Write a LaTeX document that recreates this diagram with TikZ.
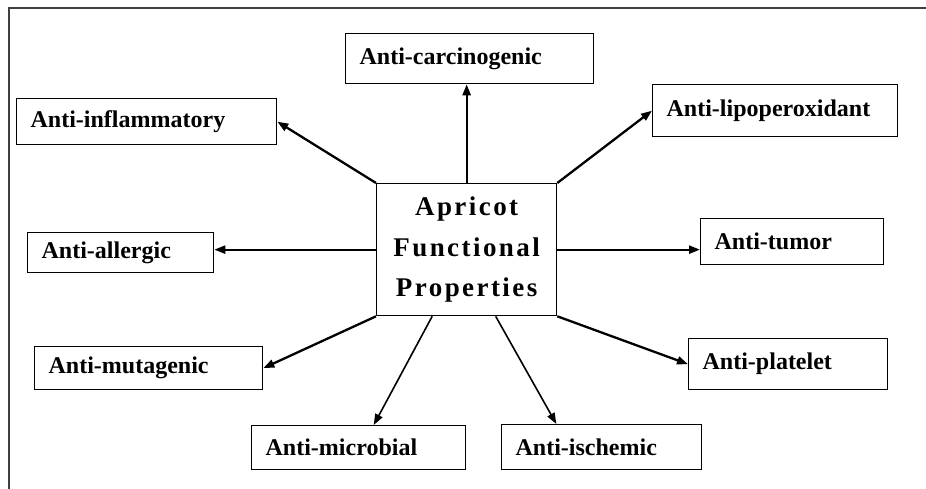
\documentclass[tikz,border=0pt]{standalone}
\usepackage{fontspec}
\setmainfont{Liberation Serif}
\newfontfamily\ctrfont[LetterSpace=9]{Liberation Serif}
\usetikzlibrary{arrows.meta,calc}
\begin{document}
\begin{tikzpicture}[x=1pt,y=-1pt,
  lbl/.style={draw, line width=1.3pt, anchor=north west, inner xsep=14pt, inner ysep=0pt,
    align=left, font=\bfseries\fontsize{24}{28}\selectfont},
  arr/.style={-{Triangle[length=11pt,width=8pt]}, line width=2.3pt},
  thinarr/.style={-{Triangle[length=11pt,width=8pt]}, line width=1.6pt},
  frame/.style={line width=1.4pt, black!75}]
\useasboundingbox (0,0) rectangle (926,489);
\coordinate (fr) at (926,8);
\coordinate (fc) at (9,8);
\coordinate (fb) at (9,489);
\draw[frame] (fr) -- (fc) -- (fb);

\node[draw, line width=1.3pt, anchor=north west, minimum width=180pt, minimum height=132pt,
  inner sep=0pt, align=center, font=\ctrfont\bfseries\fontsize{27}{40.5}\selectfont]
  (c) at (376,183) {Apricot\\Functional\\Properties};

\node[lbl, minimum width=248pt, minimum height=50pt, text width=220pt] (carc) at (345,33) {Anti-carcinogenic};
\node[lbl, minimum width=260pt, minimum height=46pt, text width=232pt] (infl) at (16,98) {Anti-inflammatory};
\node[lbl, minimum width=245pt, minimum height=52pt, text width=217pt] (lipo) at (652,84) {Anti-lipoperoxidant};
\node[lbl, minimum width=183pt, minimum height=46pt, text width=155pt] (tumor) at (700,218) {Anti-tumor};
\node[lbl, minimum width=186pt, minimum height=40pt, text width=158pt] (allerg) at (27,232) {Anti-allergic};
\node[lbl, minimum width=228pt, minimum height=43pt, text width=200pt] (mut) at (34,346) {Anti-mutagenic};
\node[lbl, minimum width=214pt, minimum height=44pt, text width=186pt] (micro) at (251,425) {Anti-microbial};
\node[lbl, minimum width=200pt, minimum height=45pt, text width=172pt] (isch) at (501,424) {Anti-ischemic};
\node[lbl, minimum width=199pt, minimum height=51pt, text width=171pt] (plat) at (688,338) {Anti-platelet};

\draw[arr] (c.north west) -- (infl.east);
\draw[arr] (c.north) -- (c.north |- carc.south);
\draw[arr] (c.north east) -- (lipo.west);
\draw[arr] (c.east) -- (c.east -| tumor.west);
\draw[arr] (c.west) -- (c.west -| allerg.east);
\draw[arr] (c.south west) -- (mut.east);
\draw[thinarr] ($(c.south west)!0.31!(c.south east)$) -- ($(micro.north west)!0.57!(micro.north east)$);
\draw[thinarr] ($(c.south west)!0.66!(c.south east)$) -- ($(isch.north west)!0.275!(isch.north east)$);
\draw[arr] (c.south east) -- (plat.west);
\end{tikzpicture}
\end{document}
